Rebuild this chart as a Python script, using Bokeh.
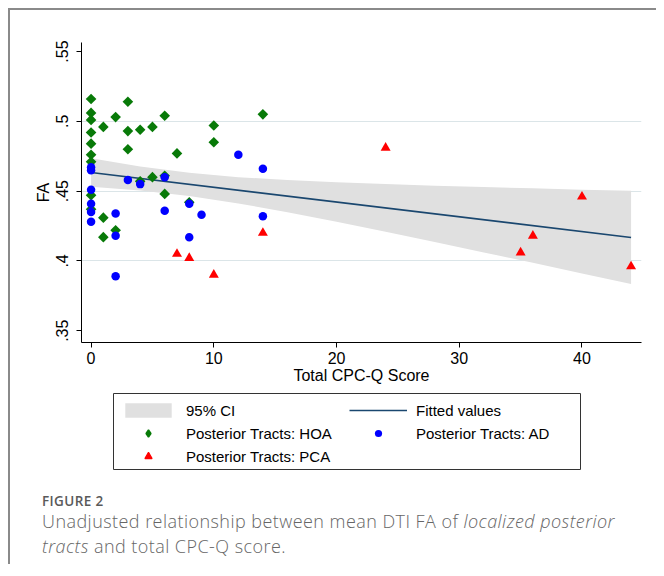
import math
from bokeh.plotting import figure
from bokeh.models import (FixedTicker, Legend, LegendItem, Range1d, Div, BoxAnnotation)
from bokeh.layouts import column
from bokeh.embed import file_html
from bokeh.resources import INLINE

# ---- data ----
hoa_x = [0, 0, 0, 0, 0, 0, 0, 0, 0, 1, 1, 1, 2, 2, 3, 3, 3, 4, 4, 5, 5, 6, 6, 6, 7, 8, 10, 10, 14]
hoa_y = [0.516, 0.506, 0.501, 0.492, 0.484, 0.476, 0.471, 0.447, 0.437,
         0.496, 0.431, 0.417, 0.503, 0.422, 0.514, 0.493, 0.480, 0.494, 0.457,
         0.496, 0.460, 0.504, 0.461, 0.448, 0.477, 0.442, 0.497, 0.485, 0.505]

ad_x = [0, 0, 0, 0, 0, 0, 2, 2, 2, 3, 4, 6, 6, 8, 8, 9, 12, 14, 14]
ad_y = [0.467, 0.465, 0.451, 0.441, 0.435, 0.428, 0.434, 0.418, 0.389,
        0.458, 0.455, 0.460, 0.436, 0.441, 0.417, 0.433, 0.476, 0.466, 0.432]

pca_x = [7, 8, 10, 14, 24, 35, 36, 40, 44]
pca_y = [0.405, 0.402, 0.390, 0.420, 0.481, 0.406, 0.418, 0.446, 0.396]

fit_x = [0, 44]
fit_y = [0.4633, 0.4168]

ci_x = [0, 4, 8, 12, 16, 20, 24, 28, 32, 36, 40, 44]
ci_upper = [0.4735, 0.4677, 0.4631, 0.4600, 0.4579, 0.4563, 0.4550, 0.4539, 0.4529, 0.4520, 0.4510, 0.4502]
ci_lower = [0.4531, 0.4505, 0.4465, 0.4412, 0.4349, 0.4281, 0.4208, 0.4135, 0.4061, 0.3986, 0.3910, 0.3834]

x_ticks = [0, 10, 20, 30, 40]
y_ticks = [0.35, 0.4, 0.45, 0.5, 0.55]
y_tick_labels = [".35", ".4", ".45", ".5", ".55"]
grid_ticks = [0.4, 0.45, 0.5]

legend_labels = ["95% CI", "Fitted values", "Posterior Tracts: HOA",
                 "Posterior Tracts: AD", "Posterior Tracts: PCA"]

FONT = "Liberation Sans"
CI_COLOR = "#e0e0e0"
FIT_COLOR = "#1a476f"
HOA_COLOR = "#087a08"
AD_COLOR = "#0000ff"
PCA_COLOR = "#ff0000"
W = 646

# ---------------- main chart ----------------
p = figure(width=W, height=382, output_backend="svg", toolbar_location=None,
           x_range=Range1d(-0.78, 44.85), y_range=Range1d(0.34155, 0.55645),
           min_border_left=71, min_border_right=15, min_border_top=32,
           min_border_bottom=50)
p.outline_line_color = None
p.background_fill_color = "white"
p.border_fill_color = "white"
p.xgrid.visible = False
p.ygrid.ticker = FixedTicker(ticks=grid_ticks)
p.ygrid.grid_line_color = "#dbe5e8"
p.ygrid.grid_line_width = 1

p.varea(x=ci_x, y1=ci_lower, y2=ci_upper, fill_color=CI_COLOR)
p.line(fit_x, fit_y, line_color=FIT_COLOR, line_width=1.6)
p.scatter(hoa_x, hoa_y, marker="square", angle=math.pi / 4, size=7.5,
          fill_color=HOA_COLOR, line_color=None)
p.scatter(ad_x, ad_y, marker="circle", size=8.5, fill_color=AD_COLOR, line_color=None)
p.scatter(pca_x, pca_y, marker="triangle", size=10, fill_color=PCA_COLOR, line_color=None)

p.xaxis.ticker = FixedTicker(ticks=x_ticks)
p.yaxis.ticker = FixedTicker(ticks=y_ticks)
p.yaxis.major_label_overrides = {t: l for t, l in zip(y_ticks, y_tick_labels)}
p.yaxis.major_label_orientation = "vertical"
p.xaxis.axis_label = "Total CPC-Q Score"
p.yaxis.axis_label = "FA"
for ax in (p.xaxis, p.yaxis):
    ax.major_label_text_font = FONT
    ax.major_label_text_font_size = "16px"
    ax.major_label_text_color = "black"
    ax.axis_label_text_font = FONT
    ax.axis_label_text_font_size = "16px"
    ax.axis_label_text_font_style = "normal"
    ax.axis_label_text_color = "black"
    ax.axis_line_color = "black"
    ax.major_tick_line_color = "black"
    ax.major_tick_in = 0
    ax.major_tick_out = 5
    ax.minor_tick_line_color = None
p.xaxis.major_label_standoff = 4
p.xaxis.axis_label_standoff = 0
p.yaxis.major_label_standoff = 8
p.yaxis.axis_label_standoff = 2

# ---------------- legend strip (its series lie outside its view) ----------------
lg = figure(width=W, height=84, output_backend="svg", toolbar_location=None,
            x_range=Range1d(-200, -199), y_range=Range1d(-200, -199),
            x_axis_type=None, y_axis_type=None,
            min_border=0, min_border_left=0, min_border_right=0,
            min_border_top=0, min_border_bottom=0)
lg.outline_line_color = None
lg.grid.visible = False
lg.background_fill_color = "white"
lg.border_fill_color = "white"

# legend box outline, drawn beneath the legend entries
lg.add_layout(BoxAnnotation(left=32, right=499, bottom=7, top=83,
                            left_units="screen", right_units="screen",
                            bottom_units="screen", top_units="screen",
                            fill_color=None, fill_alpha=0,
                            line_color="#333333", line_width=1, line_alpha=1,
                            level="underlay"))

r_ci = lg.varea(x=ci_x, y1=ci_lower, y2=ci_upper, fill_color=CI_COLOR)
r_fit = lg.line(fit_x, fit_y, line_color=FIT_COLOR, line_width=1.6)
r_hoa = lg.scatter(hoa_x, hoa_y, marker="diamond", fill_color=HOA_COLOR,
                   line_color=HOA_COLOR, line_width=1.5)
r_ad = lg.scatter(ad_x, ad_y, marker="circle", fill_color=AD_COLOR, line_color=None)
r_pca = lg.scatter(pca_x, pca_y, marker="triangle", fill_color=PCA_COLOR,
                   line_color=PCA_COLOR, line_width=1.2)

renderers = [r_ci, r_fit, r_hoa, r_ad, r_pca]
legend = Legend(items=[LegendItem(label=l, renderers=[r]) for l, r in zip(legend_labels, renderers)],
                orientation="horizontal", ncols=2,
                glyph_width=58, glyph_height=18, label_standoff=9, label_width=158,
                spacing=5, padding=6, margin=0,
                border_line_color=None,
                background_fill_color="white", background_fill_alpha=0,
                label_text_font=FONT, label_text_font_size="15px",
                label_text_color="black", location=(38, 11))
lg.add_layout(legend, "center")

# ---------------- caption ----------------
caption_html = (
    '<div style="font-family:\'Open Sans\'; color:#666666; padding:17px 0 0 32px; white-space:nowrap;">'
    '<div style="font-size:13.5px; line-height:16px; font-weight:600; color:#5a5a5a; letter-spacing:0.4px;">FIGURE 2</div>'
    '<div style="font-size:18px; line-height:25px; font-weight:300; margin-top:0px; letter-spacing:0.45px;">'
    'Unadjusted relationship between mean DTI FA of <i>localized posterior</i><br>'
    '<i>tracts</i> and total CPC-Q score.</div></div>'
)
cap = Div(text=caption_html, width=W, height=88, margin=0)

layout = column(p, lg, cap, margin=(8, 0, 0, 8), spacing=0,
                styles={"border-left": "2px solid #8a8a8a",
                        "border-top": "2px solid #8a8a8a"})

open("out.html", "w").write(file_html(layout, INLINE))
